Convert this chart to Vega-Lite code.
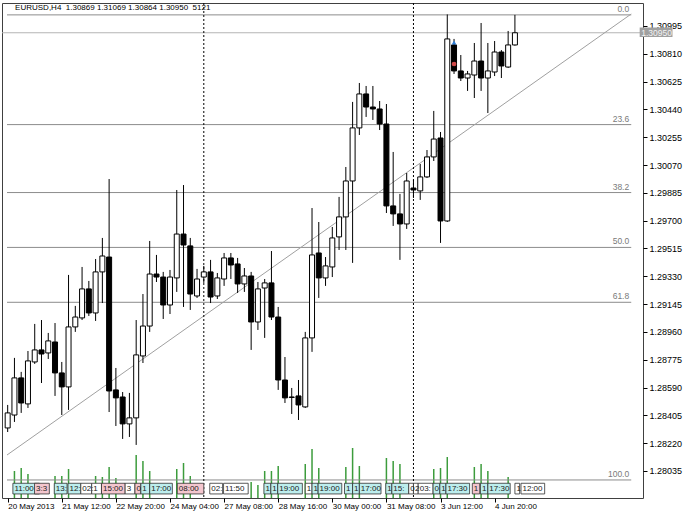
{
  "$schema": "https://vega.github.io/schema/vega-lite/v6.json",
  "width": 641,
  "height": 495,
  "autosize": {"type": "none"},
  "padding": {"left": 2, "top": 3, "right": 45, "bottom": 18},
  "background": "#ffffff",
  "config": {
    "view": {"stroke": "#404040", "strokeWidth": 1},
    "font": "Liberation Sans",
    "axisX": {
      "orient": "bottom", "title": null, "labelAlign": "left", "labelBaseline": "top", "labelPadding": 0,
      "tickSize": 4, "tickColor": "#000000", "labelFontSize": 8, "labelColor": "#000000",
      "labelFont": "Liberation Sans", "domain": false, "grid": false, "labelOverlap": false, "labelFlush": false
    }
  },
  "datasets": {
    "candles": [
      {"i":0,"o":1.28321,"h":1.28474,"l":1.28294,"c":1.28421},
      {"i":1,"o":1.28407,"h":1.28787,"l":1.28361,"c":1.28654},
      {"i":2,"o":1.28654,"h":1.28694,"l":1.28421,"c":1.28487},
      {"i":3,"o":1.28481,"h":1.28833,"l":1.28454,"c":1.28767},
      {"i":4,"o":1.28760,"h":1.29013,"l":1.28747,"c":1.28840},
      {"i":5,"o":1.28840,"h":1.29039,"l":1.28620,"c":1.28813},
      {"i":6,"o":1.28820,"h":1.28953,"l":1.28780,"c":1.28900},
      {"i":7,"o":1.28893,"h":1.29019,"l":1.28534,"c":1.28687},
      {"i":8,"o":1.28687,"h":1.28760,"l":1.28407,"c":1.28594},
      {"i":9,"o":1.28594,"h":1.29339,"l":1.28441,"c":1.28993},
      {"i":10,"o":1.28993,"h":1.29133,"l":1.28960,"c":1.29059},
      {"i":11,"o":1.29053,"h":1.29392,"l":1.29039,"c":1.29246},
      {"i":12,"o":1.29246,"h":1.29299,"l":1.29066,"c":1.29086},
      {"i":13,"o":1.29086,"h":1.29445,"l":1.29033,"c":1.29359},
      {"i":14,"o":1.29359,"h":1.29585,"l":1.29152,"c":1.29465},
      {"i":15,"o":1.29458,"h":1.29977,"l":1.28427,"c":1.28567},
      {"i":16,"o":1.28574,"h":1.28720,"l":1.28334,"c":1.28521},
      {"i":17,"o":1.28527,"h":1.28560,"l":1.28248,"c":1.28348},
      {"i":18,"o":1.28348,"h":1.28554,"l":1.28261,"c":1.28388},
      {"i":19,"o":1.28388,"h":1.29039,"l":1.28208,"c":1.28807},
      {"i":20,"o":1.28800,"h":1.29212,"l":1.28753,"c":1.28999},
      {"i":21,"o":1.28999,"h":1.29565,"l":1.28960,"c":1.29345},
      {"i":22,"o":1.29345,"h":1.29472,"l":1.29292,"c":1.29325},
      {"i":23,"o":1.29325,"h":1.29359,"l":1.29046,"c":1.29139},
      {"i":24,"o":1.29139,"h":1.29372,"l":1.29079,"c":1.29325},
      {"i":25,"o":1.29319,"h":1.29904,"l":1.29226,"c":1.29611},
      {"i":26,"o":1.29611,"h":1.29937,"l":1.29126,"c":1.29538},
      {"i":27,"o":1.29532,"h":1.29585,"l":1.29106,"c":1.29212},
      {"i":28,"o":1.29199,"h":1.29379,"l":1.29186,"c":1.29312},
      {"i":29,"o":1.29325,"h":1.29399,"l":1.29286,"c":1.29359},
      {"i":30,"o":1.29359,"h":1.29439,"l":1.29152,"c":1.29192},
      {"i":31,"o":1.29199,"h":1.29352,"l":1.29179,"c":1.29319},
      {"i":32,"o":1.29312,"h":1.29485,"l":1.29266,"c":1.29452},
      {"i":33,"o":1.29452,"h":1.29485,"l":1.29312,"c":1.29405},
      {"i":34,"o":1.29412,"h":1.29452,"l":1.29219,"c":1.29279},
      {"i":35,"o":1.29279,"h":1.29385,"l":1.29226,"c":1.29332},
      {"i":36,"o":1.29332,"h":1.29359,"l":1.28840,"c":1.29026},
      {"i":37,"o":1.29026,"h":1.29292,"l":1.28973,"c":1.29246},
      {"i":38,"o":1.29252,"h":1.29312,"l":1.28920,"c":1.29286},
      {"i":39,"o":1.29286,"h":1.29498,"l":1.29039,"c":1.29059},
      {"i":40,"o":1.29059,"h":1.29126,"l":1.28574,"c":1.28640},
      {"i":41,"o":1.28640,"h":1.28793,"l":1.28487,"c":1.28521},
      {"i":42,"o":1.28527,"h":1.28587,"l":1.28414,"c":1.28524},
      {"i":43,"o":1.28534,"h":1.28640,"l":1.28374,"c":1.28474},
      {"i":44,"o":1.28461,"h":1.28960,"l":1.28454,"c":1.28920},
      {"i":45,"o":1.28920,"h":1.29784,"l":1.28827,"c":1.29472},
      {"i":46,"o":1.29485,"h":1.29691,"l":1.29186,"c":1.29319},
      {"i":47,"o":1.29319,"h":1.29458,"l":1.29266,"c":1.29399},
      {"i":48,"o":1.29392,"h":1.29658,"l":1.29325,"c":1.29585},
      {"i":49,"o":1.29592,"h":1.29858,"l":1.29505,"c":1.29725},
      {"i":50,"o":1.29725,"h":1.30057,"l":1.29505,"c":1.29964},
      {"i":51,"o":1.29964,"h":1.30490,"l":1.29419,"c":1.30317},
      {"i":52,"o":1.30317,"h":1.30616,"l":1.30270,"c":1.30543},
      {"i":53,"o":1.30543,"h":1.30596,"l":1.30390,"c":1.30456},
      {"i":54,"o":1.30456,"h":1.30596,"l":1.30370,"c":1.30443},
      {"i":55,"o":1.30443,"h":1.30496,"l":1.30303,"c":1.30343},
      {"i":56,"o":1.30343,"h":1.30476,"l":1.29751,"c":1.29798},
      {"i":57,"o":1.29798,"h":1.30157,"l":1.29665,"c":1.29745},
      {"i":58,"o":1.29745,"h":1.29878,"l":1.29439,"c":1.29678},
      {"i":59,"o":1.29678,"h":1.30017,"l":1.29645,"c":1.29964},
      {"i":60,"o":1.29917,"h":1.29971,"l":1.29851,"c":1.29904},
      {"i":61,"o":1.29898,"h":1.30077,"l":1.29838,"c":1.29991},
      {"i":62,"o":1.29991,"h":1.30170,"l":1.29984,"c":1.30124},
      {"i":63,"o":1.30124,"h":1.30430,"l":1.30097,"c":1.30243},
      {"i":64,"o":1.30250,"h":1.30290,"l":1.29552,"c":1.29698},
      {"i":65,"o":1.29698,"h":1.31072,"l":1.29691,"c":1.30909},
      {"i":66,"o":1.30869,"h":1.30909,"l":1.30676,"c":1.30696},
      {"i":67,"o":1.30696,"h":1.30802,"l":1.30629,"c":1.30649},
      {"i":68,"o":1.30649,"h":1.30696,"l":1.30563,"c":1.30676},
      {"i":69,"o":1.30669,"h":1.30882,"l":1.30516,"c":1.30762},
      {"i":70,"o":1.30762,"h":1.31015,"l":1.30563,"c":1.30649},
      {"i":71,"o":1.30649,"h":1.30882,"l":1.30416,"c":1.30696},
      {"i":72,"o":1.30689,"h":1.30895,"l":1.30662,"c":1.30822},
      {"i":73,"o":1.30822,"h":1.30835,"l":1.30649,"c":1.30729},
      {"i":74,"o":1.30722,"h":1.30962,"l":1.30716,"c":1.30869},
      {"i":75,"o":1.30869,"h":1.31069,"l":1.30864,"c":1.30950}
    ],
    "vol": [
      {"i":1,"v":27},{"i":2,"v":30},{"i":3,"v":24},
      {"i":7,"v":22},{"i":8,"v":22},{"i":9,"v":29},
      {"i":13,"v":22},{"i":14,"v":21},{"i":15,"v":31},{"i":16,"v":20},
      {"i":19,"v":43},{"i":20,"v":37},{"i":21,"v":27},
      {"i":25,"v":29},{"i":26,"v":35},{"i":27,"v":22},
      {"i":36,"v":16},{"i":37,"v":13},{"i":38,"v":27},{"i":39,"v":27},{"i":40,"v":32},
      {"i":44,"v":34},{"i":45,"v":49},{"i":46,"v":30},
      {"i":50,"v":31},{"i":51,"v":50},{"i":52,"v":32},
      {"i":56,"v":40},{"i":57,"v":37},{"i":58,"v":34},
      {"i":63,"v":29},{"i":64,"v":30},{"i":65,"v":41},
      {"i":69,"v":31},{"i":70,"v":34},{"i":71,"v":27},
      {"i":74,"v":21}
    ],
    "fib": [
      {"i":-0.1,"e":92.2,"p":1.31069,"t":"0.0"},
      {"i":-0.1,"e":92.2,"p":1.30339,"t":"23.6"},
      {"i":-0.1,"e":92.2,"p":1.29887,"t":"38.2"},
      {"i":-0.1,"e":92.2,"p":1.29522,"t":"50.0"},
      {"i":-0.1,"e":92.2,"p":1.29157,"t":"61.8"},
      {"i":-0.1,"e":92.2,"p":1.27975,"t":"100.0"}
    ],
    "trend": [
      {"i":-0.1,"p":1.28141},
      {"i":92.2,"p":1.31075}
    ],
    "sep": [{"i":29},{"i":60}],
    "trades": [
      {"i":66,"p":1.30885,"k":"buy"},
      {"i":66,"p":1.30742,"k":"sell"}
    ],
    "events": [
      {"i":0.77,"e":4.7,"t":"11:00","k":"c"},
      {"i":3.97,"e":6.16,"t":"3:3","k":"p"},
      {"i":6.89,"e":8.78,"t":"13:","k":"c"},
      {"i":8.92,"e":10.81,"t":"12:","k":"c"},
      {"i":10.81,"e":12.42,"t":"02:","k":"w"},
      {"i":12.42,"e":13.87,"t":"1","k":"w"},
      {"i":13.87,"e":17.37,"t":"15:00","k":"p"},
      {"i":17.37,"e":18.82,"t":"3","k":"w"},
      {"i":18.82,"e":19.69,"t":"0","k":"p"},
      {"i":19.69,"e":21.0,"t":"1","k":"c"},
      {"i":21.0,"e":24.35,"t":"17:00","k":"c"},
      {"i":25.08,"e":29.0,"t":"08:00","k":"p"},
      {"i":29.88,"e":31.78,"t":"02:","k":"w"},
      {"i":31.92,"e":35.56,"t":"11:50","k":"w"},
      {"i":37.89,"e":38.91,"t":"1","k":"c"},
      {"i":38.91,"e":39.93,"t":"1","k":"c"},
      {"i":39.93,"e":43.57,"t":"19:00","k":"c"},
      {"i":44.0,"e":45.0,"t":"1","k":"w"},
      {"i":45.0,"e":45.9,"t":"1","k":"c"},
      {"i":45.9,"e":49.4,"t":"19:00","k":"c"},
      {"i":49.8,"e":51.0,"t":"1","k":"c"},
      {"i":51.0,"e":52.0,"t":"1","k":"c"},
      {"i":52.0,"e":55.2,"t":"17:00","k":"c"},
      {"i":55.9,"e":56.8,"t":"1","k":"c"},
      {"i":56.8,"e":59.3,"t":"15:","k":"c"},
      {"i":59.3,"e":60.0,"t":"0","k":"w"},
      {"i":60.0,"e":60.7,"t":"2","k":"w"},
      {"i":60.7,"e":62.9,"t":"03:","k":"w"},
      {"i":62.9,"e":63.9,"t":"0","k":"c"},
      {"i":63.9,"e":64.8,"t":"1","k":"c"},
      {"i":64.8,"e":68.3,"t":"17:30","k":"c"},
      {"i":68.7,"e":69.8,"t":"1","k":"p"},
      {"i":69.9,"e":71.0,"t":"1","k":"c"},
      {"i":71.0,"e":74.3,"t":"17:30","k":"c"},
      {"i":75.0,"e":75.7,"t":"1","k":"w"},
      {"i":75.9,"e":79.4,"t":"12:00","k":"w"}
    ],
    "header": [{"t":"EURUSD,H4\u00a0 1.30869 1.31069 1.30864 1.30950\u00a0 5121"}],
    "last": [{"i":93.45,"e":98.3,"p":1.3095,"t":"1.30950"}]
  },
  "layer": [
    {
      "data": {"name": "vol"},
      "mark": {"type": "rule", "color": "#3c9c3c", "strokeWidth": 1.5},
      "encoding": {
        "x": {
          "field": "i", "type": "quantitative",
          "scale": {"domain": [-0.1, 93.2], "nice": false, "zero": false},
          "axis": {
            "values": [0, 8, 16, 24, 32, 40, 48, 56, 64, 72],
            "labelExpr": "['20 May 2013','21 May 12:00','22 May 20:00','24 May 04:00','27 May 08:00','28 May 16:00','30 May 00:00','31 May 08:00','3 Jun 12:00','4 Jun 20:00'][round(datum.value/8)]"
          }
        },
        "y": {"field": "v", "type": "quantitative", "scale": {"domain": [0, 495], "nice": false}, "axis": null},
        "y2": {"datum": 0}
      }
    },
    {
      "data": {"name": "fib"},
      "mark": {"type": "rule", "color": "#8c8c8c", "strokeWidth": 1},
      "encoding": {
        "x": {"field": "i", "type": "quantitative", "scale": {"domain": [-0.1, 93.2], "nice": false, "zero": false}},
        "x2": {"field": "e"},
        "y": {"field": "p", "type": "quantitative", "scale": {"domain": [1.27855, 1.31148], "nice": false, "zero": false}, "axis": null}
      }
    },
    {
      "data": {"name": "last"},
      "mark": {"type": "rule", "color": "#b4b4b4", "strokeWidth": 1},
      "encoding": {
        "y": {"field": "p", "type": "quantitative", "scale": {"domain": [1.27855, 1.31148], "nice": false, "zero": false}, "axis": null}
      }
    },
    {
      "data": {"name": "trend"},
      "mark": {"type": "line", "color": "#a0a0a0", "strokeWidth": 1},
      "encoding": {
        "x": {"field": "i", "type": "quantitative", "scale": {"domain": [-0.1, 93.2], "nice": false, "zero": false}},
        "y": {"field": "p", "type": "quantitative", "scale": {"domain": [1.27855, 1.31148], "nice": false, "zero": false}, "axis": null}
      }
    },
    {
      "data": {"name": "sep"},
      "mark": {"type": "rule", "color": "#000000", "strokeWidth": 1, "strokeDash": [2, 2]},
      "encoding": {
        "x": {"field": "i", "type": "quantitative", "scale": {"domain": [-0.1, 93.2], "nice": false, "zero": false}}
      }
    },
    {
      "data": {"name": "candles"},
      "mark": {"type": "rule", "color": "#000000", "strokeWidth": 1, "clip": true},
      "encoding": {
        "x": {"field": "i", "type": "quantitative", "scale": {"domain": [-0.1, 93.2], "nice": false, "zero": false}},
        "y": {"field": "l", "type": "quantitative", "scale": {"domain": [1.27855, 1.31148], "nice": false, "zero": false}, "axis": null},
        "y2": {"field": "h"}
      }
    },
    {
      "data": {"name": "candles"},
      "mark": {"type": "bar", "size": 5, "stroke": "#000000", "strokeWidth": 1, "clip": true},
      "encoding": {
        "x": {"field": "i", "type": "quantitative", "scale": {"domain": [-0.1, 93.2], "nice": false, "zero": false}},
        "y": {
          "field": "o", "type": "quantitative",
          "scale": {"domain": [1.27855, 1.31148], "nice": false, "zero": false},
          "axis": {
            "orient": "right", "title": null,
            "values": [1.30995, 1.3081, 1.30625, 1.3044, 1.30255, 1.3007, 1.29885, 1.297, 1.29515, 1.2933, 1.29145, 1.2896, 1.28775, 1.2859, 1.28405, 1.2822, 1.28035],
            "format": ".5f", "tickSize": 4, "tickColor": "#000000", "labelPadding": 2,
            "labelFontSize": 9, "labelColor": "#000000", "labelFont": "Liberation Sans",
            "domain": false, "grid": false, "labelOverlap": false
          }
        },
        "y2": {"field": "c"},
        "fill": {"condition": {"test": "datum.c >= datum.o", "value": "#ffffff"}, "value": "#000000"}
      }
    },
    {
      "data": {"name": "trades"},
      "mark": {"type": "point", "filled": true, "size": 22, "opacity": 1},
      "encoding": {
        "x": {"field": "i", "type": "quantitative", "scale": {"domain": [-0.1, 93.2], "nice": false, "zero": false}},
        "y": {"field": "p", "type": "quantitative", "scale": {"domain": [1.27855, 1.31148], "nice": false, "zero": false}, "axis": null},
        "color": {"field": "k", "type": "nominal", "scale": {"domain": ["buy", "sell"], "range": ["#2f7fd8", "#d04848"]}, "legend": null},
        "shape": {"field": "k", "type": "nominal", "scale": {"domain": ["buy", "sell"], "range": ["triangle-up", "circle"]}, "legend": null}
      }
    },
    {
      "data": {"name": "fib"},
      "mark": {"type": "text", "align": "right", "baseline": "bottom", "dy": -1, "fontSize": 8.5, "color": "#7a7a7a", "font": "Liberation Sans"},
      "encoding": {
        "x": {"datum": 91.9, "type": "quantitative", "scale": {"domain": [-0.1, 93.2], "nice": false, "zero": false}},
        "y": {"field": "p", "type": "quantitative", "scale": {"domain": [1.27855, 1.31148], "nice": false, "zero": false}, "axis": null},
        "text": {"field": "t"}
      }
    },
    {
      "data": {"name": "header"},
      "mark": {"type": "text", "align": "left", "baseline": "middle", "fontSize": 8, "color": "#000000", "font": "Liberation Sans"},
      "encoding": {
        "x": {"datum": 1.1, "type": "quantitative", "scale": {"domain": [-0.1, 93.2], "nice": false, "zero": false}},
        "y": {"datum": 1.31115, "type": "quantitative", "scale": {"domain": [1.27855, 1.31148], "nice": false, "zero": false}, "axis": null},
        "text": {"field": "t"}
      }
    },
    {
      "data": {"name": "events"},
      "mark": {"type": "rect", "stroke": "#303030", "strokeWidth": 0.8},
      "encoding": {
        "x": {"field": "i", "type": "quantitative", "scale": {"domain": [-0.1, 93.2], "nice": false, "zero": false}},
        "x2": {"field": "e"},
        "y": {"datum": 1.27953, "type": "quantitative", "scale": {"domain": [1.27855, 1.31148], "nice": false, "zero": false}, "axis": null},
        "y2": {"datum": 1.27882},
        "fill": {"field": "k", "type": "nominal", "scale": {"domain": ["c", "p", "w"], "range": ["#bdeeee", "#f4c6ce", "#ffffff"]}, "legend": null}
      }
    },
    {
      "data": {"name": "events"},
      "mark": {"type": "text", "align": "left", "baseline": "middle", "dx": 1.5, "fontSize": 8, "color": "#202020", "font": "Liberation Sans"},
      "encoding": {
        "x": {"field": "i", "type": "quantitative", "scale": {"domain": [-0.1, 93.2], "nice": false, "zero": false}},
        "y": {"datum": 1.27917, "type": "quantitative", "scale": {"domain": [1.27855, 1.31148], "nice": false, "zero": false}, "axis": null},
        "text": {"field": "t"}
      }
    },
    {
      "data": {"name": "last"},
      "mark": {"type": "rect", "fill": "#a0a0a0", "opacity": 1},
      "encoding": {
        "x": {"field": "i", "type": "quantitative", "scale": {"domain": [-0.1, 93.2], "nice": false, "zero": false}},
        "x2": {"field": "e"},
        "y": {"datum": 1.30985, "type": "quantitative", "scale": {"domain": [1.27855, 1.31148], "nice": false, "zero": false}, "axis": null},
        "y2": {"datum": 1.30922}
      }
    },
    {
      "data": {"name": "last"},
      "mark": {"type": "text", "align": "left", "baseline": "middle", "dx": 1.5, "fontSize": 8.5, "color": "#f4f4f4", "font": "Liberation Sans"},
      "encoding": {
        "x": {"field": "i", "type": "quantitative", "scale": {"domain": [-0.1, 93.2], "nice": false, "zero": false}},
        "y": {"field": "p", "type": "quantitative", "scale": {"domain": [1.27855, 1.31148], "nice": false, "zero": false}, "axis": null},
        "text": {"field": "t"}
      }
    }
  ],
  "resolve": {"scale": {"y": "independent"}}
}
